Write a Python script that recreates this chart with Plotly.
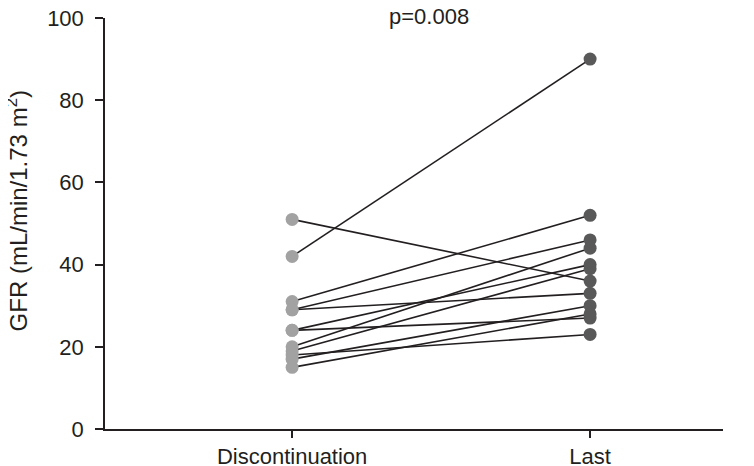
import plotly.graph_objects as go

# GFR values per patient (paired)
categories = ["Discontinuation", "Last"]
gfr_discontinuation = [42, 51, 31, 29, 29, 24, 24, 20, 19, 18, 17, 15]
gfr_last = [90, 36, 52, 46, 33, 40, 27, 44, 39, 23, 30, 28]
p_label = "p=0.008"
y_title = "GFR (mL/min/1.73 m<sup>2</sup>)"

fig = go.Figure()

# connecting lines for each patient
for a, b in zip(gfr_discontinuation, gfr_last):
    fig.add_trace(go.Scatter(
        x=[0, 1], y=[a, b], mode="lines",
        line=dict(color="#231f20", width=1.6),
        showlegend=False, hoverinfo="skip",
    ))

fig.add_trace(go.Scatter(
    x=[0] * len(gfr_discontinuation), y=gfr_discontinuation, mode="markers",
    marker=dict(color="#a2a2a2", size=13), showlegend=False,
))
fig.add_trace(go.Scatter(
    x=[1] * len(gfr_last), y=gfr_last, mode="markers",
    marker=dict(color="#595959", size=13), showlegend=False,
))

fig.add_annotation(
    text=p_label, x=0.524, y=1.0, xref="paper", yref="paper",
    xanchor="center", yanchor="bottom", yshift=-13, showarrow=False,
    font=dict(size=22, color="#231f20"),
)
# y axis title
fig.add_annotation(
    text=y_title, x=-0.142, y=0.53, xref="paper", yref="paper",
    xanchor="center", yanchor="middle", textangle=-90, showarrow=False,
    font=dict(size=24, color="#231f20"),
)

# page body adds an 8px offset, so the figure is sized to fit inside the window
fig.update_layout(
    width=746, height=458,
    margin=dict(l=97, r=31, t=10, b=37),
    paper_bgcolor="white", plot_bgcolor="white",
    font=dict(family="Liberation Sans, Arial", size=22, color="#231f20"),
    xaxis=dict(
        range=[-0.628, 1.446], tickmode="array", tickvals=[0, 1], ticktext=categories,
        showline=True, linecolor="#231f20", linewidth=1.5,
        ticks="outside", ticklen=7, tickcolor="#231f20", tickwidth=1.5,
        tickfont=dict(size=22, color="#231f20"),
        showgrid=False, zeroline=False, automargin=False,
    ),
    yaxis=dict(
        range=[0, 100], tickvals=[0, 20, 40, 60, 80, 100],
        showline=True, linecolor="#231f20", linewidth=1.5,
        ticks="outside", ticklen=8, tickcolor="#231f20", tickwidth=1.5,
        tickfont=dict(size=22, color="#231f20"),
        ticklabelstandoff=7, ticklabeloverflow="allow",
        showgrid=False, zeroline=False, automargin=False,
    ),
)

fig.write_html("out.html")
